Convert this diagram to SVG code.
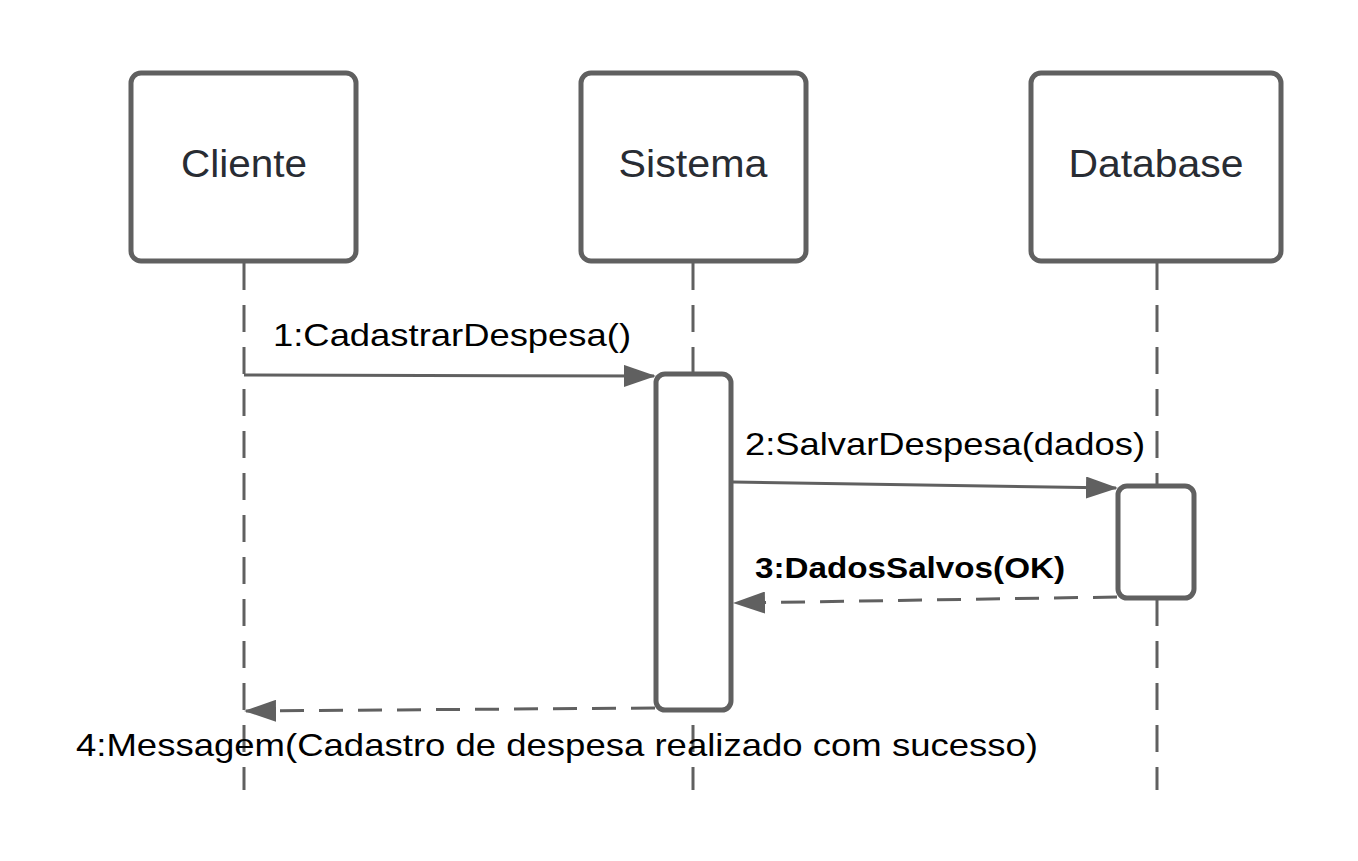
<svg xmlns="http://www.w3.org/2000/svg" width="1358" height="861" viewBox="0 0 1358 861">
<style>
.box{fill:#fff;stroke:#606060;stroke-width:5}
.act{fill:#fff;stroke:#606060;stroke-width:5}
.life{stroke:#606060;stroke-width:3;stroke-dasharray:27 15;fill:none}
.msg{stroke:#606060;stroke-width:3;fill:none}
.ret{stroke:#606060;stroke-width:3;fill:none;stroke-dasharray:24 15}
.hdr{font-family:"Liberation Sans",Arial,sans-serif;font-size:38px;fill:#282c33;text-anchor:middle}
.lbl{font-family:"Liberation Sans",Arial,sans-serif;font-size:32px;fill:#000}
.bold{font-weight:bold;font-size:29px}
</style>
<defs>
<marker id="ah" markerWidth="32" markerHeight="22" refX="30" refY="11" orient="auto" markerUnits="userSpaceOnUse">
<path d="M0,0 L32,11 L0,22 Z" fill="#606060"/>
</marker>
</defs>
<rect width="1358" height="861" fill="#fff"/>
<g id="lifelines">
<line class="life" x1="244" y1="263" x2="244" y2="790"/>
<line class="life" x1="693" y1="263" x2="693" y2="790"/>
<line class="life" x1="1157" y1="263" x2="1157" y2="790"/>
</g>
<g id="cliente">
<rect class="box" x="131" y="73" width="225" height="188" rx="10"/>
<text class="hdr" x="244" y="177" textLength="126" lengthAdjust="spacingAndGlyphs">Cliente</text>
</g>
<g id="sistema">
<rect class="box" x="581" y="73" width="225" height="188" rx="10"/>
<text class="hdr" x="693" y="177" textLength="149" lengthAdjust="spacingAndGlyphs">Sistema</text>
</g>
<g id="database">
<rect class="box" x="1031" y="73" width="250" height="188" rx="10"/>
<text class="hdr" x="1156" y="177" textLength="175" lengthAdjust="spacingAndGlyphs">Database</text>
</g>
<g id="activation-sistema">
<rect class="act" x="656" y="374" width="75" height="336" rx="9"/>
</g>
<g id="activation-database">
<rect class="act" x="1118" y="486" width="76" height="112" rx="9"/>
</g>
<g id="connectors">
<line class="msg" x1="244" y1="375" x2="654" y2="376" marker-end="url(#ah)"/>
<line class="msg" x1="733" y1="482" x2="1116" y2="488" marker-end="url(#ah)"/>
<line class="ret" x1="1117" y1="597" x2="735" y2="603" marker-end="url(#ah)"/>
<line class="ret" x1="655" y1="708" x2="246" y2="711" marker-end="url(#ah)"/>
</g>
<g id="labels">
<text class="lbl" x="273" y="346" textLength="358" lengthAdjust="spacingAndGlyphs">1:CadastrarDespesa()</text>
<text class="lbl" x="745" y="455" textLength="400" lengthAdjust="spacingAndGlyphs">2:SalvarDespesa(dados)</text>
<text class="lbl bold" x="755" y="578" textLength="310" lengthAdjust="spacingAndGlyphs">3:DadosSalvos(OK)</text>
<text class="lbl" x="76" y="756" textLength="962" lengthAdjust="spacingAndGlyphs">4:Messagem(Cadastro de despesa realizado com sucesso)</text>
</g>
</svg>
